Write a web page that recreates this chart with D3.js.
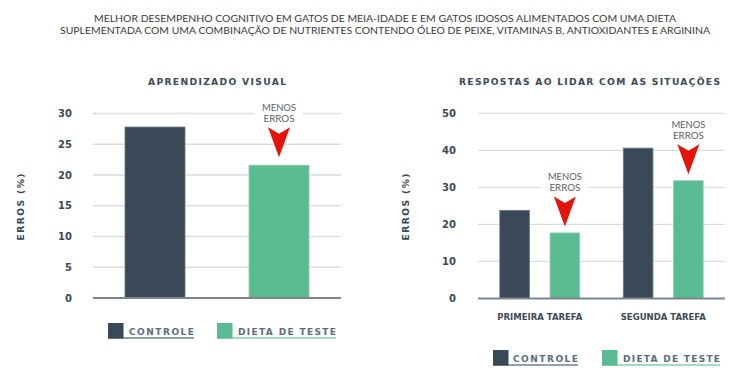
<!DOCTYPE html>
<html><head><meta charset="utf-8">
<script src="https://cdn.jsdelivr.net/npm/d3@7"></script>
<style>body{margin:0;background:#fff;} svg{display:block;}</style>
</head><body>
<svg id="c" width="749" height="378"></svg>
<script>
const titleLines = ["MELHOR DESEMPENHO COGNITIVO EM GATOS DE MEIA-IDADE E EM GATOS IDOSOS ALIMENTADOS COM UMA DIETA",
  "SUPLEMENTADA COM UMA COMBINAÇÃO DE NUTRIENTES CONTENDO ÓLEO DE PEIXE, VITAMINAS B, ANTIOXIDANTES E ARGININA"];
const seriesNames = ["CONTROLE", "DIETA DE TESTE"];
// chart 1
const visualTitle = "APRENDIZADO VISUAL";
const visualCats = ["CONTROLE", "DIETA DE TESTE"];
const visualValues = [27.8, 21.6];
const visualTicks = [0, 5, 10, 15, 20, 25, 30];
// chart 2
const situTitle = "RESPOSTAS AO LIDAR COM AS SITUAÇÕES";
const situCats = ["PRIMEIRA TAREFA", "SEGUNDA TAREFA"];
const situControl = [23.8, 40.6];
const situTest = [17.7, 31.8];
const situTicks = [0, 10, 20, 30, 40, 50];
const yTitle = "ERROS (%)";
const noteLines = ["MENOS", "ERROS"];

const colors = {control: "#3a4958", test: "#5aba92", arrow: "#e3130e", text: "#3d4956", legendText: "#5a6d7d"};
const svg = d3.select("#c");
const FONT = "Lato, 'Open Sans', sans-serif";
const BFONT = "'DejaVu Sans', 'Open Sans', sans-serif";

// main title
svg.selectAll("text.mt").data(titleLines).join("text")
  .attr("x", 385).attr("y", (d, i) => 22 + i * 12)
  .attr("text-anchor", "middle").attr("font-family", FONT).attr("font-size", 10.3)
  .attr("fill", "#3a3a3a")
  .attr("textLength", (d, i) => i === 0 ? 582 : 650).attr("lengthAdjust", "spacingAndGlyphs")
  .text(d => d);

function boldSpaced(g, x, y, txt, size, len, fill, anchor) {
  return g.append("text").attr("x", x).attr("y", y).attr("text-anchor", anchor || "middle")
    .attr("font-family", BFONT).attr("font-weight", 700).attr("font-size", size)
    .attr("fill", fill).attr("textLength", len).attr("lengthAdjust", "spacing").text(txt);
}

function arrow(g, cx, tip) {
  const w = 11, h = 30, n = 6.5;
  g.append("path")
    .attr("d", `M${cx - w},${tip - h} L${cx},${tip - h + n} L${cx + w},${tip - h} L${cx},${tip} Z`)
    .attr("fill", colors.arrow);
  g.append("rect").attr("x", cx - 24).attr("y", tip - 56).attr("width", 48).attr("height", 24).attr("fill", "#fff");
  g.selectAll("text.note").data(noteLines).join("text")
    .attr("x", cx).attr("y", (d, i) => tip - 46.5 + i * 11)
    .attr("text-anchor", "middle").attr("font-family", FONT).attr("font-size", 10)
    .attr("fill", "#59616a").attr("textLength", (d, i) => i === 0 ? 34 : 31).attr("lengthAdjust", "spacingAndGlyphs")
    .text(d => d);
}

function yAxisDraw(g, y, ticks, x0, x1, labelX) {
  g.selectAll("line.grid").data(ticks.filter(t => t !== 0)).join("line")
    .attr("x1", x0).attr("x2", x1).attr("y1", d => y(d)).attr("y2", d => y(d))
    .attr("stroke", "#d9dde0").attr("stroke-width", 1.3);
  g.selectAll("text.tick").data(ticks).join("text")
    .attr("x", labelX).attr("y", d => y(d) + 3.7).attr("text-anchor", "end")
    .attr("font-family", BFONT).attr("font-weight", 700).attr("font-size", 10).attr("fill", colors.text)
    .text(d => d);
}

// ---------- Chart 1 ----------
{
  const g = svg.append("g");
  const x = d3.scaleBand().domain(visualCats).range([93, 341]).paddingInner(0).paddingOuter(0);
  const y = d3.scaleLinear().domain([0, 30]).range([298, 113.5]);
  yAxisDraw(g, y, visualTicks, 93, 341, 72);
  const bw = 60;
  g.selectAll("rect.bar").data(visualValues).join("rect")
    .attr("x", (d, i) => x(visualCats[i]) + x.bandwidth() / 2 - bw / 2)
    .attr("y", d => y(d)).attr("width", bw).attr("height", d => y(0) - y(d))
    .attr("fill", (d, i) => i === 0 ? colors.control : colors.test)
    .attr("stroke", (d, i) => i === 0 ? "#6d7986" : "#8fd0b4").attr("stroke-width", 0.8);
  g.append("line").attr("x1", 93).attr("x2", 341).attr("y1", y(0)).attr("y2", y(0))
    .attr("stroke", "#7c868f").attr("stroke-width", 2);
  arrow(g, x(visualCats[1]) + x.bandwidth() / 2, y(visualValues[1]) - 8);
  boldSpaced(g, 217, 84.5, visualTitle, 9.2, 138, colors.text);
  const yt = g.append("g").attr("transform", "translate(23.5,207) rotate(-90)");
  boldSpaced(yt, 0, 0, yTitle, 9.2, 67, colors.text);
}

// ---------- Chart 2 ----------
{
  const g = svg.append("g");
  const x = d3.scaleBand().domain(situCats).range([478, 725]).padding(0);
  const xi = d3.scaleBand().domain(seriesNames).range([-50, 50]).paddingInner(0.41).paddingOuter(0.2);
  const y = d3.scaleLinear().domain([0, 50]).range([298.5, 113.3]);
  yAxisDraw(g, y, situTicks, 478, 725, 456);
  const rows = situCats.map((c, i) => [{c, s: seriesNames[0], v: situControl[i]}, {c, s: seriesNames[1], v: situTest[i]}]).flat();
  g.selectAll("rect.bar").data(rows).join("rect")
    .attr("x", d => x(d.c) + x.bandwidth() / 2 + xi(d.s))
    .attr("y", d => y(d.v)).attr("width", xi.bandwidth()).attr("height", d => y(0) - y(d.v))
    .attr("fill", d => d.s === seriesNames[0] ? colors.control : colors.test)
    .attr("stroke", d => d.s === seriesNames[0] ? "#6d7986" : "#8fd0b4").attr("stroke-width", 0.8);
  g.append("line").attr("x1", 478).attr("x2", 725).attr("y1", y(0)).attr("y2", y(0))
    .attr("stroke", "#7c868f").attr("stroke-width", 2);
  situCats.forEach((c, i) => {
    const cx = x(c) + x.bandwidth() / 2 + xi(seriesNames[1]) + xi.bandwidth() / 2;
    arrow(g, cx, y(situTest[i]) - 6.5);
  });
  g.selectAll("text.cat").data(situCats).join("text")
    .attr("x", d => x(d) + x.bandwidth() / 2).attr("y", 319.5).attr("text-anchor", "middle")
    .attr("font-family", BFONT).attr("font-weight", 700).attr("font-size", 8.5).attr("fill", colors.text)
    .attr("textLength", 85).attr("lengthAdjust", "spacingAndGlyphs")
    .text(d => d);
  boldSpaced(g, 589.5, 84.5, situTitle, 9.2, 261, colors.text);
  const yt = g.append("g").attr("transform", "translate(408.5,207) rotate(-90)");
  boldSpaced(yt, 0, 0, yTitle, 9.2, 67, colors.text);
}

// ---------- Legends ----------
function legend(ox, oy, items) {
  const g = svg.append("g");
  items.forEach(it => {
    const col = it.i === 0 ? colors.control : colors.test;
    g.append("line").attr("x1", it.x).attr("x2", it.end).attr("y1", oy + 15).attr("y2", oy + 15)
      .attr("stroke", it.i === 0 ? "#6f7f8d" : "#7fd0ad").attr("stroke-width", 1.5);
    g.append("rect").attr("x", it.x).attr("y", oy).attr("width", 15.5).attr("height", 15.5).attr("fill", col);
    boldSpaced(g, it.tx, oy + 11.5, seriesNames[it.i], 9, it.end - it.tx, colors.legendText, "start");
  });
}
legend(0, 323, [{i: 0, x: 108, tx: 129, end: 194}, {i: 1, x: 217, tx: 238, end: 336}]);
legend(0, 350, [{i: 0, x: 493, tx: 513, end: 578}, {i: 1, x: 602, tx: 623, end: 720}]);
</script>
</body></html>
